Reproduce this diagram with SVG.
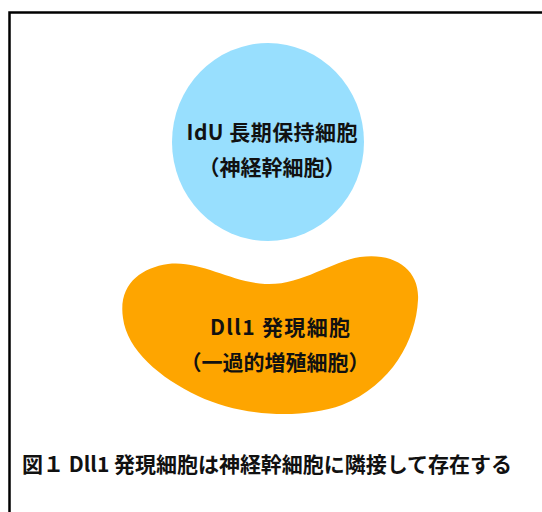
<svg xmlns="http://www.w3.org/2000/svg" width="542" height="512" viewBox="0 0 542 512">
  <style>
    .lbl { font-family: "Noto Sans CJK JP", "Noto Sans", sans-serif; font-weight: 700; fill: #111; text-anchor: middle; }
    .cap { font-family: "Noto Sans CJK JP", "Noto Sans", sans-serif; font-weight: 700; fill: #111; }
  </style>
  <rect x="0" y="0" width="542" height="512" fill="#fff"/>
  <rect id="frame" x="9.5" y="12.5" width="620" height="600" fill="none" stroke="#000" stroke-width="2.5"/>
  <g id="stem-cell">
    <ellipse cx="268" cy="142" rx="96" ry="99" fill="#98dffe"/>
    <text class="lbl" x="272" y="140" font-size="21" textLength="171" lengthAdjust="spacing">IdU 長期保持細胞</text>
    <text class="lbl" x="272" y="175" font-size="21">（神経幹細胞）</text>
  </g>
  <g id="dll1-cell">
    <path d="M123,318 C118,285 140,268 168,264 C200,260 230,282 265,284 C300,286 330,262 360,257 C395,252 420,270 418,300 C416,340 392,385 342,405 C300,420 240,416 198,396 C160,378 127,350 123,318 Z" fill="#fea500"/>
    <text class="lbl" x="280" y="335" font-size="21" textLength="140" lengthAdjust="spacing">Dll1 発現細胞</text>
    <text class="lbl" x="275" y="370" font-size="21">（一過的増殖細胞）</text>
  </g>
  <g id="caption">
    <text class="cap" x="22" y="472" font-size="21" textLength="490" lengthAdjust="spacing">図１ Dll1 発現細胞は神経幹細胞に隣接して存在する</text>
  </g>
</svg>
